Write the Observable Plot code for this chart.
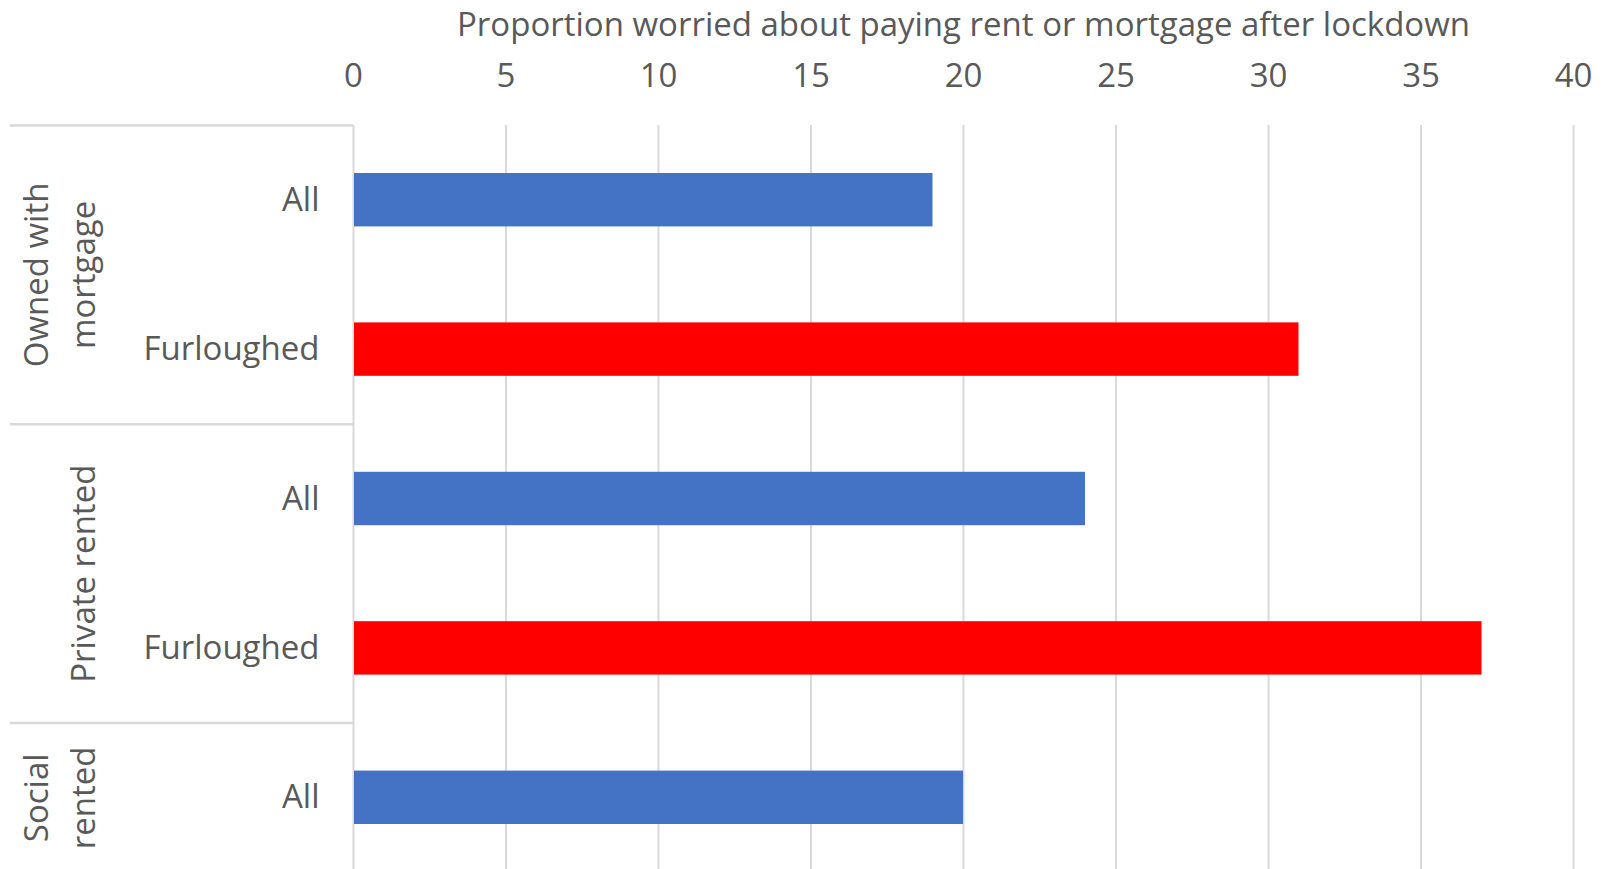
<!DOCTYPE html>
<html>
<head>
<meta charset="utf-8">
<script src="https://cdn.jsdelivr.net/npm/d3@7"></script>
<script src="https://cdn.jsdelivr.net/npm/@observablehq/plot@0.6"></script>
<style>
  html, body { margin: 0; padding: 0; background: #ffffff; }
  #chart svg { display: block; }
</style>
</head>
<body>
<div id="chart"></div>
<script>
// ---- data ----
const tenure = ["Owned with mortgage", "Owned with mortgage", "Private rented", "Private rented", "Social rented"];
const status = ["All", "Furloughed", "All", "Furloughed", "All"];
const worried = [19, 31, 24, 37, 20];
const groupNames = ["Owned with mortgage", "Private rented", "Social rented"];
const groupLabels = ["Owned with\nmortgage", "Private rented", "Social\nrented"];
const xTicks = [0, 5, 10, 15, 20, 25, 30, 35, 40];
const xTitle = "Proportion worried about paying rent or mortgage after lockdown";

// ---- derived tables ----
const rows = tenure.map((t, i) => ({tenure: t, status: status[i], value: worried[i], i}));
const groups = groupNames.map((g, k) => {
  const idx = rows.filter(r => r.tenure === g).map(r => r.i);
  return {label: groupLabels[k], start: d3.min(idx) - 0.5, end: d3.max(idx) + 0.5, mid: d3.mean(idx)};
});
const boundaries = groups.map(g => g.start);

const textColor = "#595959";
const gridColor = "#d9d9d9";
const fs = 33;

const chart = Plot.plot({
  width: 1606,
  height: 869,
  marginTop: 125,
  marginLeft: 353,
  marginRight: 33,
  marginBottom: -3,
  style: {fontFamily: "'Open Sans', sans-serif", fontSize: fs + "px", color: textColor, background: "#ffffff"},
  x: {domain: [0, 40]},
  y: {domain: [rows.length - 0.5, -0.5]},
  color: {domain: ["All", "Furloughed"], range: ["#4472C4", "#FF0000"]},
  marks: [
    Plot.ruleX(xTicks, {stroke: gridColor, strokeWidth: 2}),
    Plot.ruleY(boundaries, {x1: -11.25, x2: 0, stroke: gridColor, strokeWidth: 2.5}),
    Plot.rectX(rows, {
      x1: 0, x2: "value",
      y1: d => d.i - 0.5, y2: d => d.i + 0.5,
      insetTop: 48, insetBottom: 48, insetLeft: 1,
      fill: "status"
    }),
    Plot.axisX({
      anchor: "top", ticks: xTicks, tickSize: 0, tickPadding: 39,
      fontSize: fs, label: xTitle, labelAnchor: "center", labelOffset: 113, labelArrow: "none"
    }),
    Plot.axisY({
      ticks: rows.map(r => r.i), tickFormat: i => status[i],
      tickSize: 0, tickPadding: 34, fontSize: fs, label: null
    }),
    Plot.text(groups, {
      y: "mid", text: "label", frameAnchor: "left", dx: -259,
      rotate: -90, textAnchor: "middle", lineAnchor: "bottom", lineHeight: 1.42,
      fontSize: fs, fill: textColor
    })
  ]
});
document.getElementById("chart").appendChild(chart);
</script>
</body>
</html>
